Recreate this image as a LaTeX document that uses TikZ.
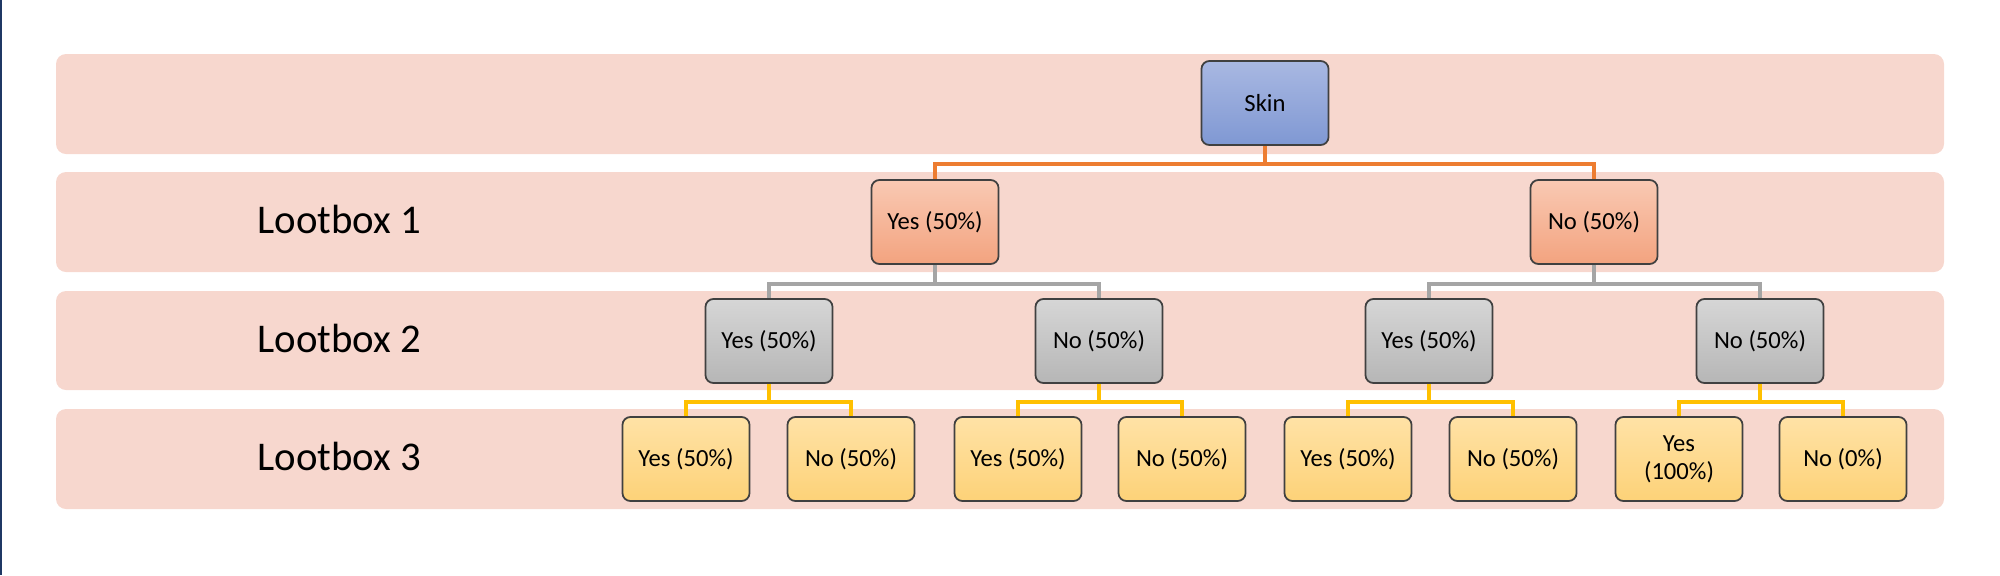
\documentclass[tikz,border=0pt]{standalone}
\usepackage{fontspec}
\setmainfont{Carlito}
\usepackage{xcolor}
\usepackage{tikz}
\usetikzlibrary{calc}
\definecolor{lanepink}{HTML}{F7D7CE}
\definecolor{edge}{HTML}{404040}
\definecolor{skintop}{HTML}{A9B8E2}
\definecolor{skinbot}{HTML}{7F98D3}
\definecolor{onetop}{HTML}{F9C9B3}
\definecolor{onebot}{HTML}{F3A37F}
\definecolor{twotop}{HTML}{D6D6D6}
\definecolor{twobot}{HTML}{B6B6B6}
\definecolor{threetop}{HTML}{FFE2A6}
\definecolor{threebot}{HTML}{FDD278}
\definecolor{orangeline}{HTML}{ED7D31}
\definecolor{greyline}{HTML}{A5A5A5}
\definecolor{yellowline}{HTML}{FFC000}
\definecolor{navy}{HTML}{1F3864}
\tikzset{
  lane/.style={fill=lanepink, rounded corners=0.1cm},
  box/.style={draw=edge, line width=0.5pt, rounded corners=0.08cm,
    minimum width=1.27cm, minimum height=0.84cm, inner sep=1pt,
    align=center, font=\fontsize{7}{8}\selectfont},
  skinbox/.style={box, top color=skintop, bottom color=skinbot},
  boxone/.style={box, top color=onetop, bottom color=onebot},
  boxtwo/.style={box, top color=twotop, bottom color=twobot},
  boxthree/.style={box, top color=threetop, bottom color=threebot},
  rowlab/.style={anchor=west, font=\fontsize{11.6}{14}\selectfont},
  orangeln/.style={draw=orangeline, line width=1.1pt},
  greyln/.style={draw=greyline, line width=1.1pt},
  yellowln/.style={draw=yellowline, line width=1.1pt},
  every node/.style={text=black}
}

\begin{document}
\begin{tikzpicture}[x=0.01cm, y=-0.01cm]
  \useasboundingbox (0,0) rectangle (2000,575);
  \fill[navy] (0,0) rectangle (2,575);

  % lanes
  \fill[lane] (56,54) rectangle (1944,154);
  \fill[lane] (56,172) rectangle (1944,272);
  \fill[lane] (56,291) rectangle (1944,390);
  \fill[lane] (56,409) rectangle (1944,509);

  \node[rowlab] (lab1) at (245,219) {Lootbox 1};
  \node[rowlab] (lab2) at (245,338) {Lootbox 2};
  \node[rowlab] (lab3) at (245,456) {Lootbox 3};

  % tree
  \node[skinbox] (skin) at (1265,103) {Skin};

  \node[boxone] (y) at (935,222) {Yes (50\%)};
  \node[boxone] (n) at (1594,222) {No (50\%)};

  \node[boxtwo] (yy) at (769,341) {Yes (50\%)};
  \node[boxtwo] (yn) at (1099,341) {No (50\%)};
  \node[boxtwo] (ny) at (1429,341) {Yes (50\%)};
  \node[boxtwo] (nn) at (1760,341) {No (50\%)};

  \node[boxthree] (yyy) at (686,459) {Yes (50\%)};
  \node[boxthree] (yyn) at (851,459) {No (50\%)};
  \node[boxthree] (yny) at (1018,459) {Yes (50\%)};
  \node[boxthree] (ynn) at (1182,459) {No (50\%)};
  \node[boxthree] (nyy) at (1348,459) {Yes (50\%)};
  \node[boxthree] (nyn) at (1513,459) {No (50\%)};
  \node[boxthree] (nny) at (1679,459) {Yes\\(100\%)};
  \node[boxthree] (nnn) at (1843,459) {No (0\%)};

  % links
  \draw[orangeln] (skin.south) -- ++(0,18);
  \draw[orangeln] (y.north) |- ($(skin.south)+(0,18)$) -| (n.north);

  \draw[greyln] (y.south) -- ++(0,19);
  \draw[greyln] (yy.north) |- ($(y.south)+(0,19)$) -| (yn.north);
  \draw[greyln] (n.south) -- ++(0,19);
  \draw[greyln] (ny.north) |- ($(n.south)+(0,19)$) -| (nn.north);

  \draw[yellowln] (yy.south) -- ++(0,18);
  \draw[yellowln] (yyy.north) |- ($(yy.south)+(0,18)$) -| (yyn.north);
  \draw[yellowln] (yn.south) -- ++(0,18);
  \draw[yellowln] (yny.north) |- ($(yn.south)+(0,18)$) -| (ynn.north);
  \draw[yellowln] (ny.south) -- ++(0,18);
  \draw[yellowln] (nyy.north) |- ($(ny.south)+(0,18)$) -| (nyn.north);
  \draw[yellowln] (nn.south) -- ++(0,18);
  \draw[yellowln] (nny.north) |- ($(nn.south)+(0,18)$) -| (nnn.north);
\end{tikzpicture}
\end{document}
